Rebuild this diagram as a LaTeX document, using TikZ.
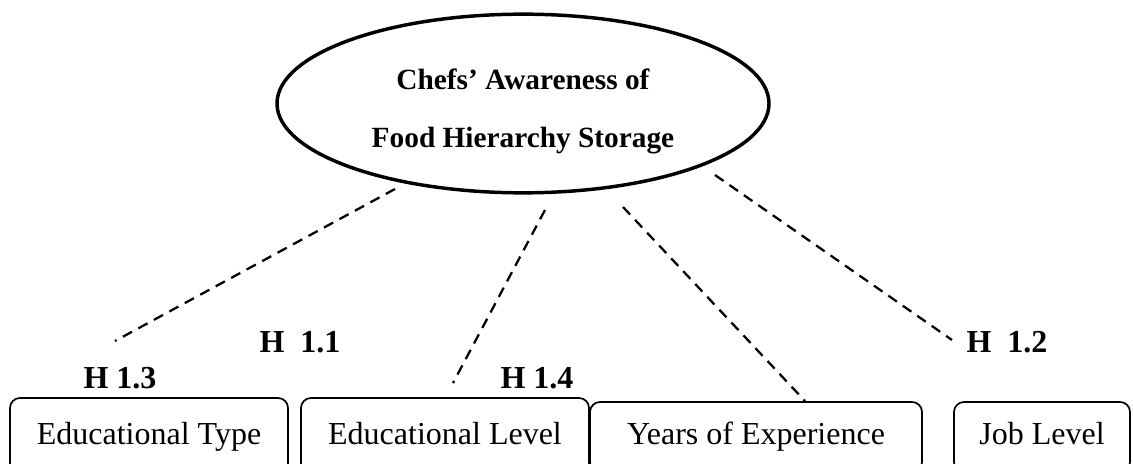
\documentclass[tikz,border=0pt]{standalone}
\usepackage{fontspec}
\setmainfont{Liberation Serif}
\usetikzlibrary{shapes.geometric}
\tikzset{
  aware/.style={draw,ellipse,line width=1.3pt,minimum width=184.5pt,minimum height=67pt,inner sep=0pt},
  awaretext/.style={font=\fontsize{11}{13}\selectfont\bfseries,anchor=base,inner sep=0pt},
  factor/.style={draw,rounded corners=3.75pt,line width=0.65pt,font=\fontsize{12}{14}\selectfont,text height=8.4pt,text depth=3pt,inner sep=0pt},
  hyp/.style={font=\fontsize{12}{14}\selectfont\bfseries,anchor=base,inner sep=0pt},
  link/.style={line width=0.85pt,dash pattern=on 3.9pt off 2.7pt}
}
\begin{document}
\begin{tikzpicture}[x=0.375pt,y=-0.375pt]
\clip (0,0) rectangle (1133,464);
\node[aware] (aware) at (523,103.5) {};
\node[awaretext] (aw1) at (523,90) {Chefs’ Awareness of};
\node[awaretext] (aw2) at (523,147) {Food Hierarchy Storage};
\node[factor,minimum width=104.25pt,minimum height=29.25pt] (edtype) at (149,437) {Educational Type};
\node[factor,minimum width=108pt,minimum height=29.25pt] (edlevel) at (445,437) {Educational Level};
\node[factor,minimum width=124.5pt,minimum height=26.25pt] (years) at (756,437) {Years of Experience};
\node[factor,minimum width=66pt,minimum height=26.25pt] (job) at (1042,437) {Job Level};
\node[hyp] (h13) at (120,388) {H 1.3};
\node[hyp] (h11) at (300,352) {H~~1.1};
\node[hyp] (h14) at (537,388) {H 1.4};
\node[hyp] (h12) at (1007,352) {H~~1.2};
\coordinate (a1) at (395,189);
\coordinate (b1) at (115,341);
\coordinate (a2) at (545,210);
\coordinate (b2) at (453,383);
\coordinate (a3) at (623,207);
\coordinate (b3) at (805,401);
\coordinate (a4) at (715,175);
\coordinate (b4) at (952,340);
\draw[link] (a1) -- (b1);
\draw[link] (a2) -- (b2);
\draw[link] (a3) -- (b3);
\draw[link] (a4) -- (b4);
\end{tikzpicture}
\end{document}
